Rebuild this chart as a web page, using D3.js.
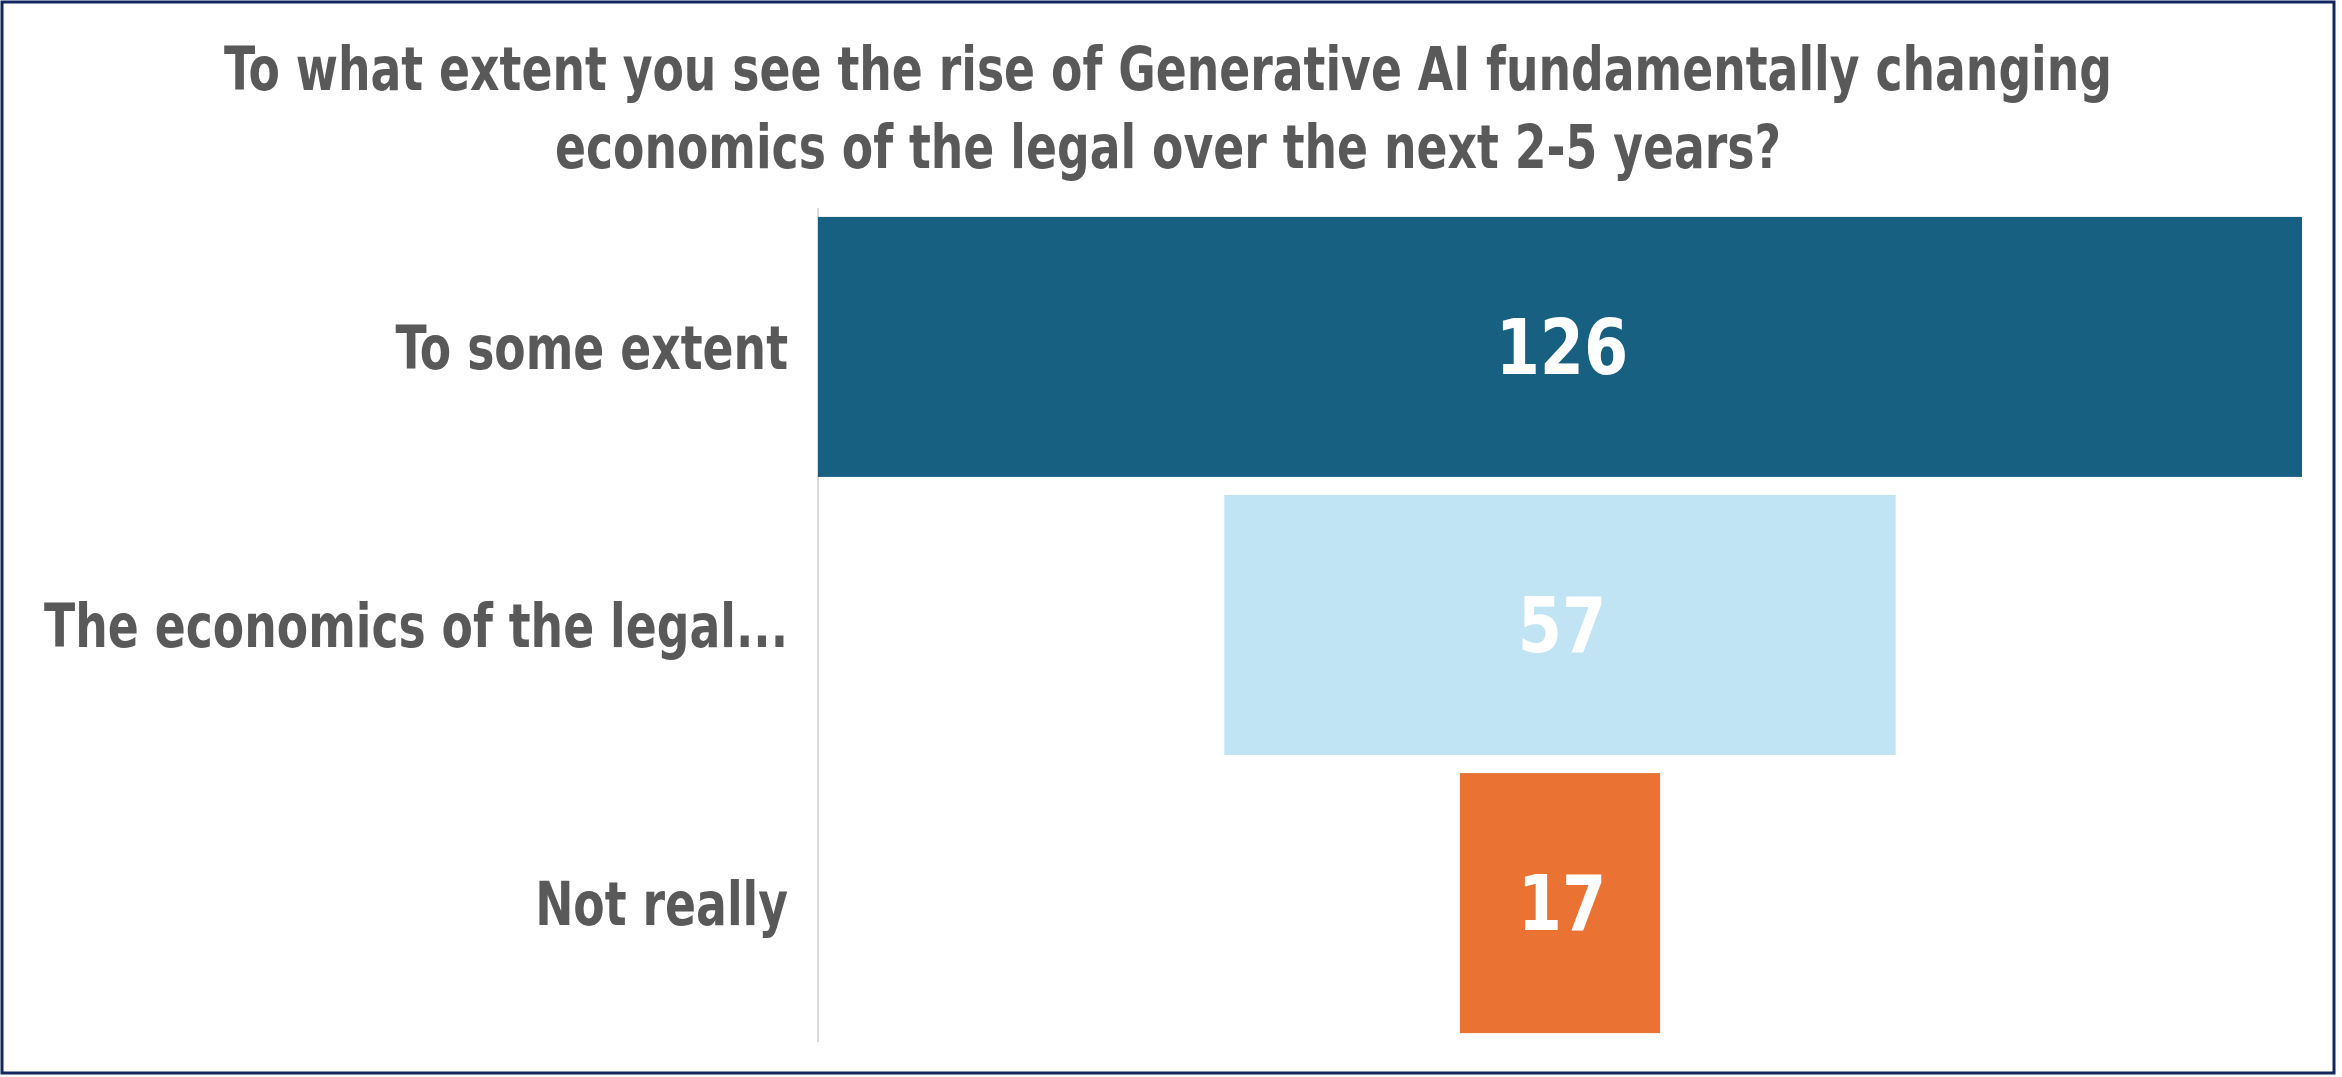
<!DOCTYPE html>
<html>
<head>
<meta charset="utf-8">
<script src="https://cdn.jsdelivr.net/npm/d3@7"></script>
<style>
  body { margin: 0; background: #fff; }
  text { font-family: "Liberation Sans Narrow", "DejaVu Sans Condensed", "Roboto", sans-serif; font-weight: bold; }
</style>
</head>
<body>
<div id="chart"></div>
<script>
const titleLines = [
    "To what extent you see the rise of Generative AI fundamentally changing",
    "economics of the legal over the next 2-5 years?"
];
const categories = ["To some extent", "The economics of the legal...", "Not really"];
const counts = [126, 57, 17];
const barColors = ["#176082", "#c0e4f3", "#ea7233"];

const W = 2342, H = 1077;

const svg = d3.select("#chart").append("svg")
    .attr("width", W)
    .attr("height", H);

// squeeze text horizontally to mimic the narrow font of the original
function condense(sel, k) {
    sel.each(function () {
        const len = this.getComputedTextLength();
        d3.select(this)
            .attr("textLength", len * k)
            .attr("lengthAdjust", "spacingAndGlyphs");
    });
}

// frame
svg.append("rect")
    .attr("x", 2).attr("y", 2)
    .attr("width", 2332).attr("height", 1071)
    .attr("fill", "#fff")
    .attr("stroke", "#10275f")
    .attr("stroke-width", 3);

// title
const title = svg.append("g").selectAll("text")
    .data(titleLines)
    .enter()
    .append("text")
    .attr("x", 1168)
    .attr("y", (d, i) => 90 + i * 78)
    .attr("text-anchor", "middle")
    .attr("font-size", 60)
    .attr("fill", "#595959")
    .text(d => d);

// narrow factor taken from the first title line (1888px wide in the original)
const k = 1888 / title.node().getComputedTextLength();
condense(title, k);

const axisX = 818;
const centerX = 1560;

const yScale = d3.scaleBand()
    .domain(categories)
    .range([208, 1042])
    .paddingInner(0.065)
    .paddingOuter(0.032);

const wScale = d3.scaleLinear()
    .domain([0, d3.max(counts)])
    .range([0, 1484]);

// vertical axis line
svg.append("line")
    .attr("x1", axisX).attr("x2", axisX)
    .attr("y1", yScale.range()[0]).attr("y2", yScale.range()[1])
    .attr("stroke", "#d9d9d9")
    .attr("stroke-width", 2);

// funnel bars (centred)
svg.append("g").selectAll("rect")
    .data(counts)
    .enter()
    .append("rect")
    .attr("x", d => centerX - wScale(d) / 2)
    .attr("y", (d, i) => yScale(categories[i]))
    .attr("width", d => wScale(d))
    .attr("height", yScale.bandwidth())
    .attr("fill", (d, i) => barColors[i]);

// value labels
svg.append("g").selectAll("text")
    .data(counts)
    .enter()
    .append("text")
    .attr("x", centerX + 2)
    .attr("y", (d, i) => yScale(categories[i]) + yScale.bandwidth() / 2)
    .attr("dy", "0.36em")
    .attr("text-anchor", "middle")
    .attr("font-size", 76)
    .attr("fill", "#fff")
    .text(d => d)
    .call(condense, 0.93);

// category labels
svg.append("g").selectAll("text")
    .data(categories)
    .enter()
    .append("text")
    .attr("x", 788)
    .attr("y", d => yScale(d) + yScale.bandwidth() / 2)
    .attr("dy", "0.36em")
    .attr("text-anchor", "end")
    .attr("font-size", 60)
    .attr("fill", "#595959")
    .text(d => d)
    .call(condense, k);
</script>
</body>
</html>
